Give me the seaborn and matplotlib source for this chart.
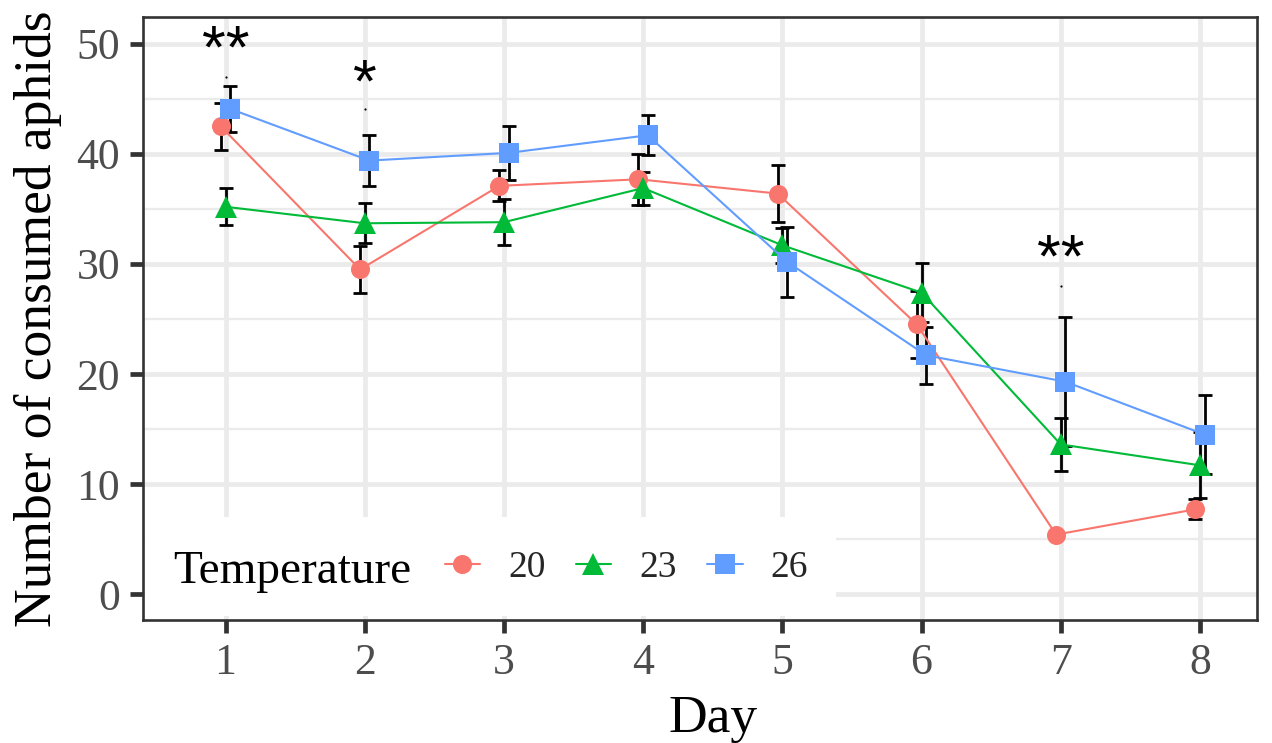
import matplotlib
matplotlib.use("Agg")
import matplotlib.pyplot as plt
import numpy as np
import pandas as pd
import seaborn as sns
from matplotlib.lines import Line2D
from matplotlib.patches import Rectangle

# ---- data -----------------------------------------------------------
days = [1, 2, 3, 4, 5, 6, 7, 8]
temperatures = ["20", "23", "26"]

mean_20 = [42.5, 29.5, 37.1, 37.7, 36.4, 24.5, 5.4, 7.7]
err_20 = [2.1, 2.1, 1.4, 2.3, 2.6, 3.0, 0.3, 0.9]
mean_23 = [35.2, 33.7, 33.8, 36.9, 31.7, 27.4, 13.6, 11.7]
err_23 = [1.7, 1.8, 2.1, 1.5, 1.6, 2.7, 2.4, 3.0]
mean_26 = [44.1, 39.4, 40.1, 41.7, 30.2, 21.7, 19.3, 14.5]
err_26 = [2.1, 2.3, 2.45, 1.8, 3.2, 2.6, 5.85, 3.55]

sig_days = [1, 2, 7]
sig_labels = ["**", "*", "**"]
sig_y = [49.25, 46.2, 30.25]
dot_y = [47.0, 44.1, 28.0]

y_ticks = [0, 10, 20, 30, 40, 50]

# ---- styling --------------------------------------------------------
palette = {"20": "#F8766D", "23": "#00BA38", "26": "#619CFF"}
markers = {"20": "o", "23": "^", "26": "s"}
marker_sizes = {"o": 13.7, "^": 16.5, "s": 13.9}
dodge = {"20": -1 / 30, "23": 0.0, "26": 1 / 30}

sns.set_theme(style="white")
plt.rcParams["font.family"] = ["Liberation Serif", "DejaVu Serif"]

means = {"20": mean_20, "23": mean_23, "26": mean_26}
errs = {"20": err_20, "23": err_23, "26": err_26}
rows = []
for t in temperatures:
    for d, m, e in zip(days, means[t], errs[t]):
        rows.append({"Day": d, "x": d + dodge[t], "Temperature": t, "mean": m, "err": e})
df = pd.DataFrame(rows)

fig = plt.figure(figsize=(12.72, 7.43), dpi=100)
ax = fig.add_axes([143 / 1272, 1 - 620 / 743, 1114 / 1272, 603 / 743])

# error bars beneath lines and points
for t in temperatures:
    sub = df[df["Temperature"] == t]
    ax.errorbar(sub["x"], sub["mean"], yerr=sub["err"], fmt="none",
                ecolor="black", elinewidth=2.0, capsize=4.7, capthick=2.0,
                zorder=2)

sns.lineplot(data=df, x="x", y="mean", hue="Temperature", style="Temperature",
             hue_order=temperatures, style_order=temperatures,
             palette=palette, markers=markers, dashes=False,
             linewidth=1.5, markersize=13.7, markeredgewidth=0,
             errorbar=None, legend=False, ax=ax, zorder=3)
for line in ax.lines:
    mk = line.get_marker()
    if mk in marker_sizes:
        line.set_markersize(marker_sizes[mk])

# significance marks
for d, lab, y in zip(sig_days, sig_labels, sig_y):
    ax.text(d, y, lab, ha="center", va="center", fontsize=44,
            family=["Liberation Sans", "DejaVu Sans"], color="black", zorder=4)
ax.scatter(sig_days, dot_y, s=2.5, color="black", linewidths=0, zorder=4)

# axes
ax.set_xlim(0.407, 8.41)
ax.set_ylim(-2.36, 52.45)
ax.set_xticks(days)
ax.set_xticklabels([str(d) for d in days])
ax.set_yticks(y_ticks)
ax.set_yticks([5, 15, 25, 35, 45], minor=True)
ax.set_axisbelow(True)
ax.grid(which="major", color="#EBEBEB", linewidth=3.4)
ax.grid(which="minor", axis="y", color="#EBEBEB", linewidth=1.7)
ax.grid(which="minor", axis="x", visible=False)
for sp in ax.spines.values():
    sp.set_color("#333333")
    sp.set_linewidth(1.9)
ax.tick_params(which="major", bottom=True, left=True, length=9.5, width=3.4,
               color="#333333", labelsize=31.5, labelcolor="#4D4D4D", pad=7)
ax.tick_params(which="minor", length=0)
ax.set_xlabel("Day", fontsize=38.5, color="black")
ax.set_ylabel("Number of consumed aphids", fontsize=38.5, color="black")
ax.xaxis.set_label_coords((713 - 143) / 1114, -0.125)
ax.yaxis.set_label_coords(-0.073, 0.5)

# legend: white box inside the panel, title to the left of the keys
ax.add_patch(Rectangle((0.0018, 0.0066), 0.6202, 0.1642, transform=ax.transAxes,
                       facecolor="white", edgecolor="none", zorder=5))
ax.text(30 / 1114, (620 - 583.3) / 603, "Temperature", transform=ax.transAxes,
        ha="left", va="baseline", fontsize=34, color="black", zorder=6)
handles = [Line2D([], [], color=palette[t], marker=markers[t], linewidth=1.5,
                  markersize=marker_sizes[markers[t]], markeredgewidth=0)
           for t in temperatures]
leg = ax.legend(handles, temperatures, ncol=3, frameon=False, fontsize=27,
                loc="center left", bbox_to_anchor=((444.5 - 143) / 1114, (620 - 568) / 603),
                borderpad=0, borderaxespad=0, handlelength=0.95,
                handletextpad=0.75, columnspacing=0.8)
leg.set_zorder(6)

fig.savefig("out.png", dpi=100)
